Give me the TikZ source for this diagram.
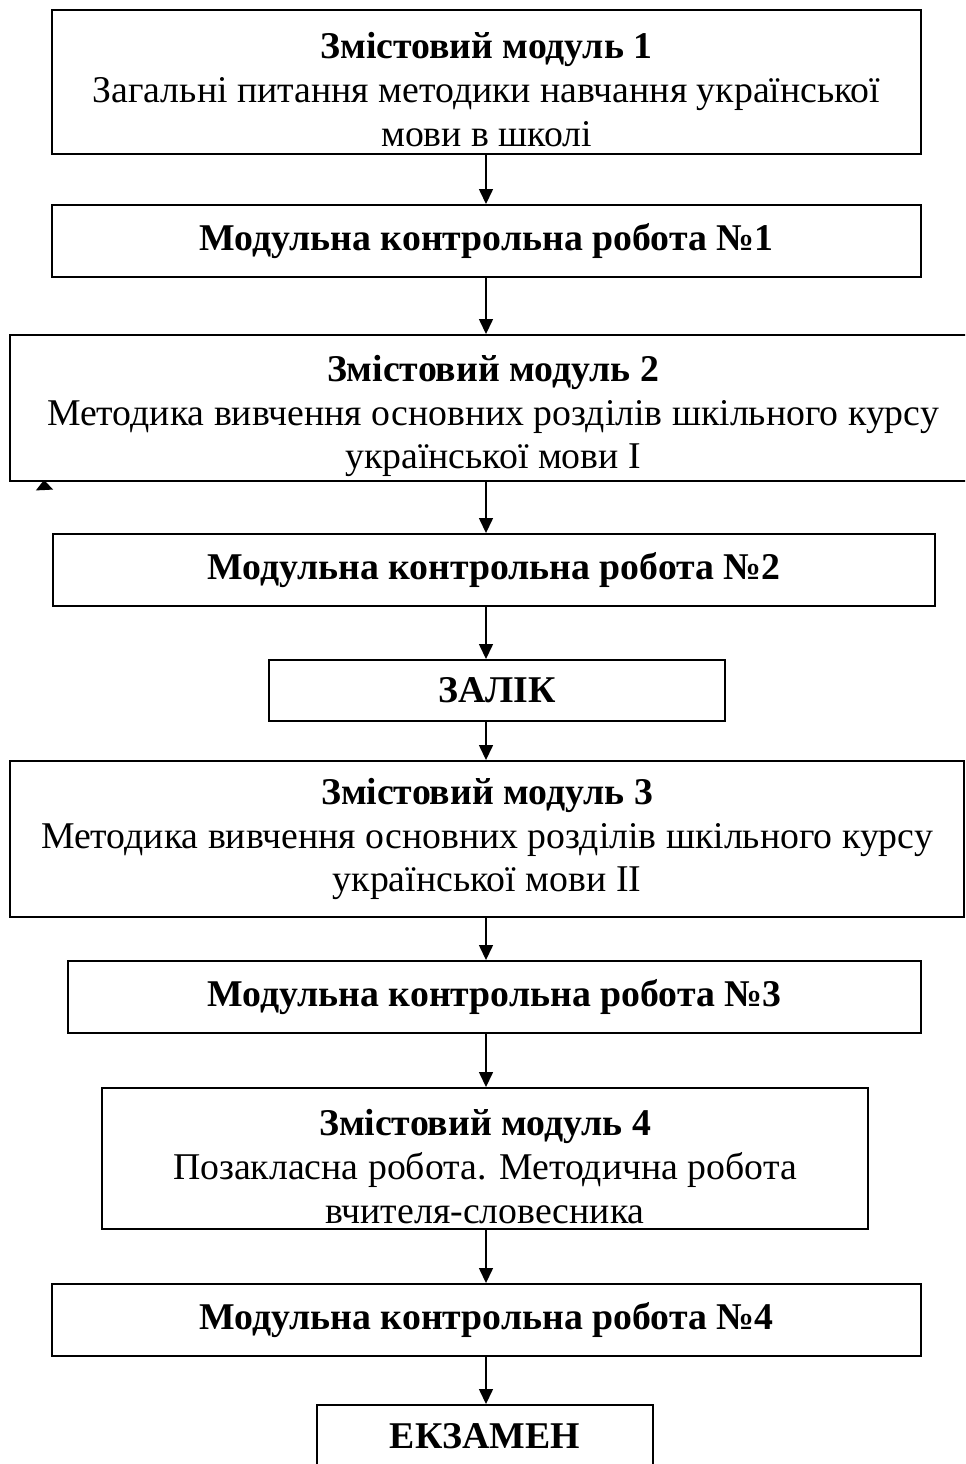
\documentclass[tikz,border=0pt]{standalone}
\usepackage{fontspec}
\setmainfont{Liberation Serif}
\usetikzlibrary{arrows.meta}
\newcommand{\lowerfirst}{\rule{0pt}{24pt}}
\tikzset{
	modulenode/.style={rectangle, draw=black, line width=1.1pt, align=center, inner sep=0pt, font=\fontsize{21.5}{25}\selectfont},
	flowarrow/.style={line width=0.8pt, -{Triangle[length=0.3cm,width=0.28cm]}}
}

\begin{document}
\begin{tikzpicture}[x=0.02cm,y=-0.02cm]
			\clip (0,0) rectangle (965,1464);
			\node[modulenode, minimum width=17.38cm, minimum height=2.88cm] (zm1) at (486.5,82) {\lowerfirst\textbf{Змістовий модуль 1}\\Загальні питання методики навчання української\\мови в школі};
			\node[modulenode, minimum width=17.38cm, minimum height=1.44cm] (mkr1) at (486.5,241) {\textbf{Модульна контрольна робота №1}};
			\node[modulenode, minimum width=19.32cm, minimum height=2.92cm] (zm2) at (493,408) {\lowerfirst\textbf{Змістовий модуль 2}\\Методика вивчення основних розділів шкільного курсу\\української мови І};
			\node[modulenode, minimum width=17.64cm, minimum height=1.44cm] (mkr2) at (494,570) {\textbf{Модульна контрольна робота №2}};
			\node[modulenode, minimum width=9.12cm, minimum height=1.22cm] (zalik) at (497,690.5) {\textbf{ЗАЛІК}};
			\node[modulenode, minimum width=19.08cm, minimum height=3.12cm] (zm3) at (487,839) {\textbf{Змістовий модуль 3}\\Методика вивчення основних розділів шкільного курсу\\української мови ІІ};
			\node[modulenode, minimum width=17.06cm, minimum height=1.44cm] (mkr3) at (494.5,997) {\textbf{Модульна контрольна робота №3}};
			\node[modulenode, minimum width=15.32cm, minimum height=2.82cm] (zm4) at (485,1158.5) {\lowerfirst\textbf{Змістовий модуль 4}\\Позакласна робота. Методична робота\\вчителя-словесника};
			\node[modulenode, minimum width=17.38cm, minimum height=1.44cm] (mkr4) at (486.5,1320) {\textbf{Модульна контрольна робота №4}};
			\node[modulenode, minimum width=6.72cm, minimum height=1.24cm] (exam) at (485,1436) {\textbf{ЕКЗАМЕН}};
			
			\coordinate (axis) at (486,0);
			\foreach \a/\b in {zm1/mkr1, mkr1/zm2, zm2/mkr2, mkr2/zalik, zalik/zm3, zm3/mkr3, mkr3/zm4, zm4/mkr4, mkr4/exam}
				\draw[flowarrow] (axis |- \a.south) -- (axis |- \b.north);
			
			% stray tip under the second module
			\coordinate (straytail) at (44.5,490);
			\coordinate (straytip) at (44,480);
			\draw[line width=0.8pt, -{Triangle[length=0.2cm,width=0.34cm]}] (straytail) -- (straytip);
		\end{tikzpicture}
\end{document}
